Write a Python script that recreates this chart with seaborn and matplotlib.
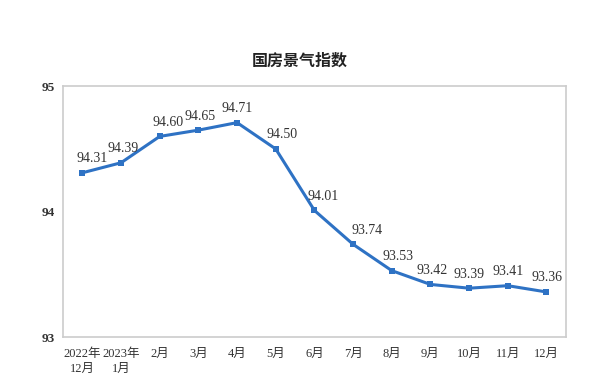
import pandas as pd
import matplotlib as mpl
import matplotlib.pyplot as plt
import seaborn as sns

sns.set_style('white')
mpl.rcParams['axes.unicode_minus'] = False
plt.rcParams['font.family'] = ['Liberation Serif', 'Noto Sans CJK SC']

# 国房景气指数 数据
months = ['2022年\n12月', '2023年\n1月', '2月', '3月', '4月', '5月', '6月',
          '7月', '8月', '9月', '10月', '11月', '12月']
values = [94.31, 94.39, 94.60, 94.65, 94.71, 94.50, 94.01,
          93.74, 93.53, 93.42, 93.39, 93.41, 93.36]

df = pd.DataFrame({'idx': range(len(months)), 'value': values})

fig, ax = plt.subplots(figsize=(6, 3.92), dpi=100)
fig.subplots_adjust(left=0.105, right=0.943, top=0.78, bottom=0.14)

color = '#2e72c4'
sns.lineplot(data=df, x='idx', y='value', ax=ax, color=color, linewidth=2.2,
             marker='s', markersize=4, markeredgewidth=0)

# 数据标签 (水平偏移, 像素)
shift_px = [10, 2, 8, 2, 0, 6, 9, 14, 6, 2, 0, 0, 1]
for i, v in enumerate(values):
    ax.annotate(f'{v:.2f}', (i, v), xytext=(shift_px[i] * 0.72, 5.5),
                textcoords='offset points', ha='center', va='bottom',
                fontsize=10, color='#333333')

ax.set_xlim(-0.5, len(months) - 0.5)
ax.set_ylim(93, 95)
ax.set_yticks([93, 94, 95])
ax.set_yticklabels(['93', '94', '95'], fontsize=9.5, color='#333333', fontweight='bold')
ax.set_xticks(range(len(months)))
ax.set_xticklabels(months, fontsize=9, color='#333333', linespacing=1.3)
ax.set_xticks([k - 0.5 for k in range(1, len(months))], minor=True)
ax.tick_params(axis='x', which='major', length=0, pad=8)
ax.tick_params(axis='x', which='minor', direction='in', length=4, color='#bbbbbb', width=1)
ax.tick_params(axis='y', length=0, pad=6)
ax.set_xlabel('')
ax.set_ylabel('')

for s in ax.spines.values():
    s.set_color('#cccccc')
    s.set_linewidth(1.2)

fig.text(0.5, 0.845, '国房景气指数', ha='center', va='center', fontsize=11.5,
         fontweight='bold', family=['Noto Sans CJK SC'], color='#222222')

plt.savefig('out.png', dpi=100)
